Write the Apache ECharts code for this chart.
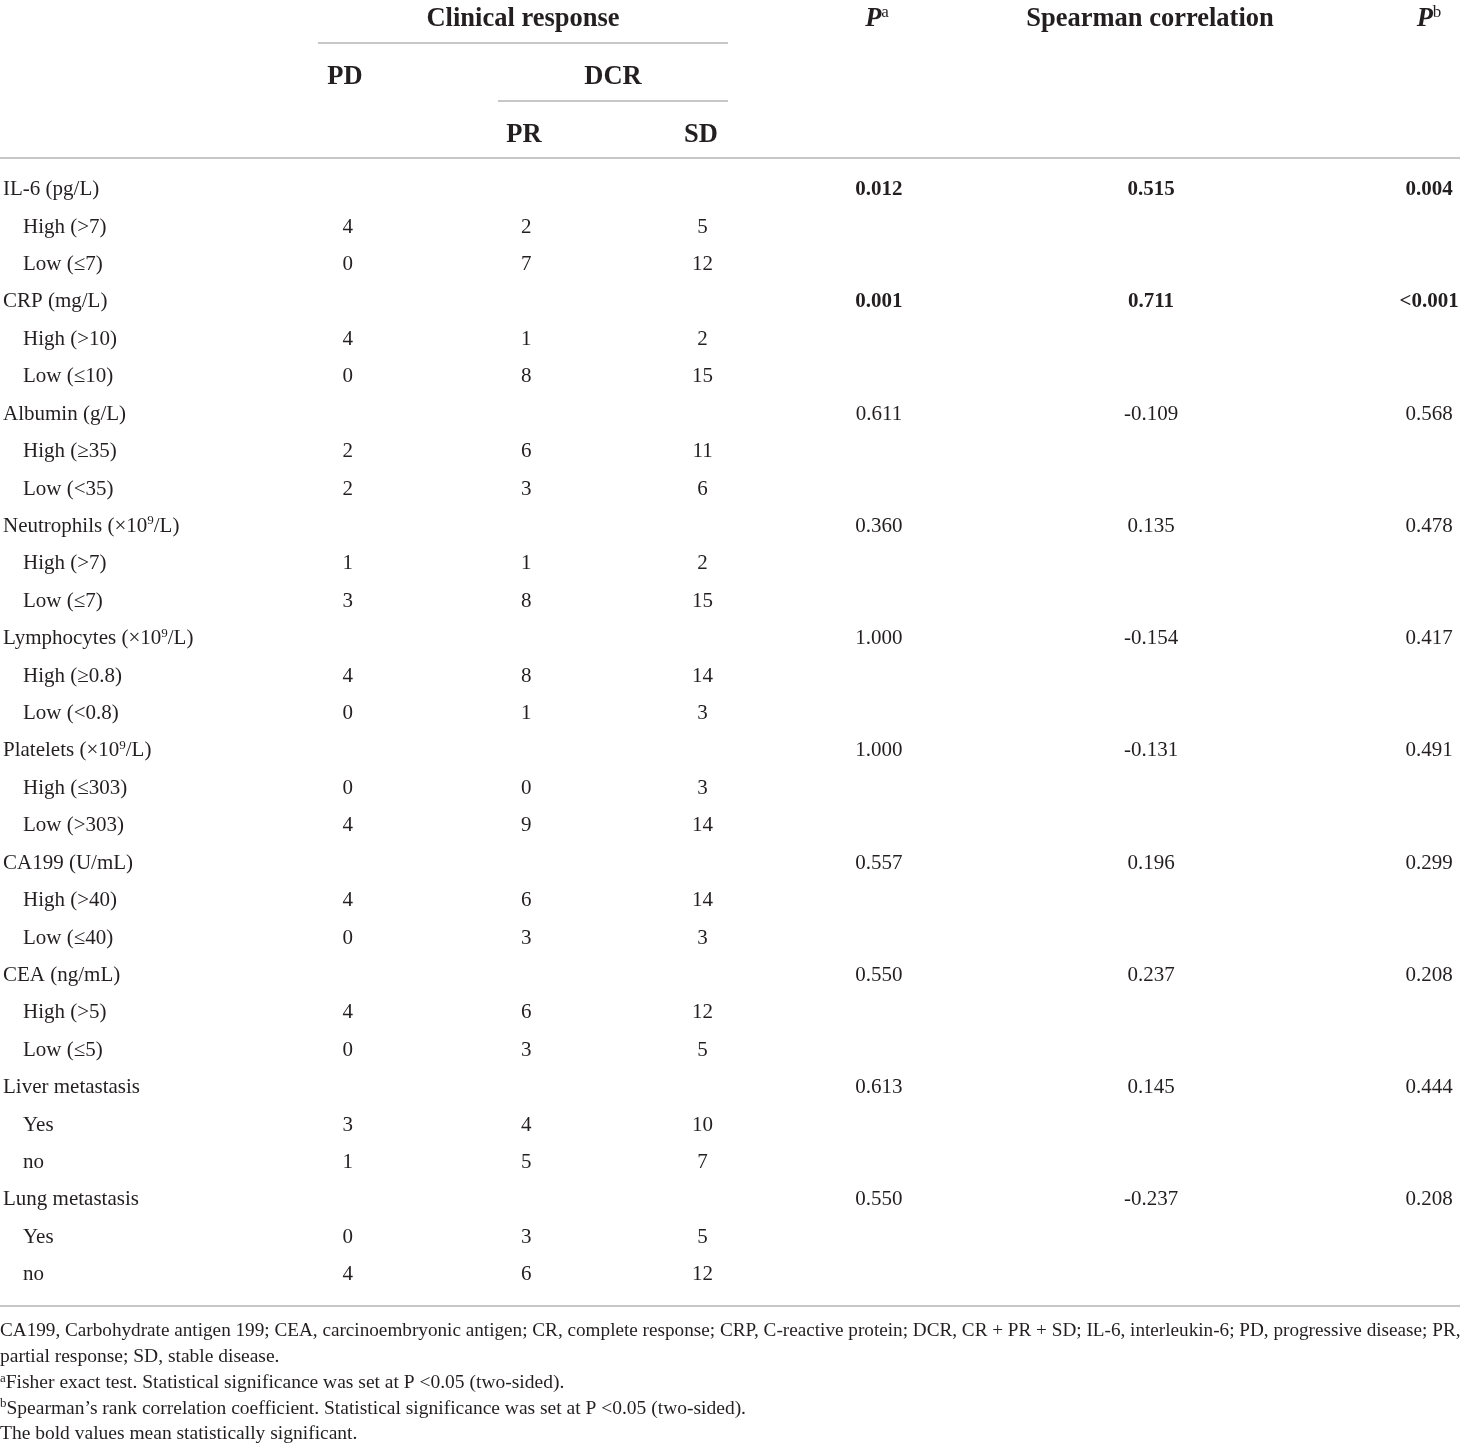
<!DOCTYPE html>
<html>
<head>
<meta charset="utf-8">
<script src="https://cdn.jsdelivr.net/npm/echarts@6/dist/echarts.min.js"></script>
<style>
  html, body { margin: 0; padding: 0; background: #fff; }
  #main { width: 1460px; height: 1444px; }
</style>
</head>
<body>
<div id="main"></div>
<script>
// table data
var groupNames = ['IL-6 (pg/L)', 'CRP (mg/L)', 'Albumin (g/L)', 'Neutrophils (×10^9/L)',
    'Lymphocytes (×10^9/L)', 'Platelets (×10^9/L)', 'CA199 (U/mL)', 'CEA (ng/mL)',
    'Liver metastasis', 'Lung metastasis'];
var levelNames = [
    ['High (>7)', 'Low (≤7)'],
    ['High (>10)', 'Low (≤10)'],
    ['High (≥35)', 'Low (<35)'],
    ['High (>7)', 'Low (≤7)'],
    ['High (≥0.8)', 'Low (<0.8)'],
    ['High (≤303)', 'Low (>303)'],
    ['High (>40)', 'Low (≤40)'],
    ['High (>5)', 'Low (≤5)'],
    ['Yes', 'no'],
    ['Yes', 'no']
];
var pdCounts = [[4, 0], [4, 0], [2, 2], [1, 3], [4, 0], [0, 4], [4, 0], [4, 0], [3, 1], [0, 4]];
var prCounts = [[2, 7], [1, 8], [6, 3], [1, 8], [8, 1], [0, 9], [6, 3], [6, 3], [4, 5], [3, 6]];
var sdCounts = [[5, 12], [2, 15], [11, 6], [2, 15], [14, 3], [3, 14], [14, 3], [12, 5], [10, 7], [5, 12]];
var fisherP = ['0.012', '0.001', '0.611', '0.360', '1.000', '1.000', '0.557', '0.550', '0.613', '0.550'];
var spearmanR = ['0.515', '0.711', '-0.109', '0.135', '-0.154', '-0.131', '0.196', '0.237', '0.145', '-0.237'];
var spearmanP = ['0.004', '<0.001', '0.568', '0.478', '0.417', '0.491', '0.299', '0.208', '0.444', '0.208'];

var footnotes = [
    'CA199, Carbohydrate antigen 199; CEA, carcinoembryonic antigen; CR, complete response; CRP, C-reactive protein; DCR, CR + PR + SD; IL-6, interleukin-6; PD, progressive disease; PR,',
    'partial response; SD, stable disease.',
    '^aFisher exact test. Statistical significance was set at P <0.05 (two-sided).',
    '^bSpearman\u2019s rank correlation coefficient. Statistical significance was set at P <0.05 (two-sided).',
    'The bold values mean statistically significant.'
];

// layout
var FONT = 'Liberation Serif';
var INK = '#231f20';
var RULE = '#b4b4b4';
var BODY = 21;
var colX = { pd: 344, pr: 523, sd: 700, pa: 877, rho: 1150, pb: 1429 };

// flatten groups into table rows
var rows = [];
groupNames.forEach(function (g, gi) {
    rows.push({ label: g, group: gi, sub: false });
    levelNames[gi].forEach(function (lv, li) {
        rows.push({ label: lv, group: gi, sub: true, level: li });
    });
});

function isBold(gi) {
    return parseFloat(fisherP[gi]) < 0.05;
}

// turn "x^9y" into rich text segments
function rich(text, style) {
    var out = '';
    var parts = text.split(/\^(\w)/);
    for (var i = 0; i < parts.length; i++) {
        if (parts[i] === '') continue;
        out += (i % 2 === 1) ? '{sup|' + parts[i] + '}' : '{' + style + '|' + parts[i] + '}';
    }
    return out;
}

function cellSeries(name, x, getter) {
    var data = [];
    rows.forEach(function (r, ri) {
        var v = getter(r);
        if (v === null || v === undefined) return;
        data.push({
            value: [x, ri, String(v)],
            label: { fontWeight: (!r.sub && isBold(r.group)) ? 'bold' : 'normal' }
        });
    });
    return {
        name: name,
        type: 'scatter',
        symbolSize: 0,
        silent: true,
        itemStyle: { opacity: 1 },
        data: data,
        label: {
            show: true,
            position: 'inside',
            fontFamily: FONT,
            fontSize: BODY,
            color: INK,
            opacity: 1,
            formatter: function (p) { return p.value[2]; }
        }
    };
}

var chart = echarts.init(document.getElementById('main'));

var richStyles = {
    g: { fontFamily: FONT, fontSize: BODY, color: INK, lineHeight: 24 },
    s: { fontFamily: FONT, fontSize: BODY, color: INK, lineHeight: 24, padding: [0, 0, 0, 20] },
    sup: { fontFamily: FONT, fontSize: 13, color: INK, lineHeight: 13, verticalAlign: 'top' }
};

var headStyle = { fontFamily: FONT, fontSize: 26.5, fontWeight: 'bold', fill: INK };

function headText(text, x, y) {
    return { type: 'text', x: x, y: y, style: Object.assign({ text: text, align: 'center', verticalAlign: 'middle' }, headStyle) };
}

function pHead(letter, x) {
    return {
        type: 'text', x: x, y: 19,
        style: {
            text: '{p|P}{sup|' + letter + '}',
            align: 'center', verticalAlign: 'middle',
            rich: {
                p: { fontFamily: FONT, fontSize: 26.5, fontWeight: 'bold', fontStyle: 'italic', fill: INK, lineHeight: 30 },
                sup: { fontFamily: FONT, fontSize: 17, fill: INK, lineHeight: 16, verticalAlign: 'top' }
            }
        }
    };
}

function rule(x1, x2, y) {
    return { type: 'line', shape: { x1: x1, y1: y, x2: x2, y2: y }, style: { stroke: RULE, lineWidth: 1.5 } };
}

var graphics = [
    headText('Clinical response', 523, 19),
    headText('PD', 345, 77),
    headText('DCR', 613, 77),
    headText('PR', 524, 135),
    headText('SD', 701, 135),
    pHead('a', 877),
    headText('Spearman correlation', 1150, 19),
    pHead('b', 1429),
    rule(318, 728, 43),
    rule(498, 728, 101),
    rule(0, 1460, 158),
    rule(0, 1460, 1306)
];

footnotes.forEach(function (t, i) {
    var fs = i === 0 ? 19.2 : 19.5;
    graphics.push({
        type: 'text', x: 0, y: 1331 + i * 25.8,
        style: {
            text: rich(t, 'f'),
            align: 'left', verticalAlign: 'middle',
            rich: {
                f: { fontFamily: FONT, fontSize: fs, fill: INK, lineHeight: 22 },
                sup: { fontFamily: FONT, fontSize: 13, fill: INK, lineHeight: 12, verticalAlign: 'top' }
            }
        }
    });
});

var option = {
    backgroundColor: '#fff',
    animation: false,
    grid: { left: -2, right: 0, top: 171, height: 1122.5 },
    xAxis: {
        type: 'value', min: -2, max: 1460,
        show: false
    },
    yAxis: {
        type: 'category',
        inverse: true,
        data: rows.map(function (r, i) { return 'row' + i; }),
        axisLine: { show: false },
        axisTick: { show: false },
        splitLine: { show: false },
        axisLabel: {
            inside: true,
            interval: 0,
            margin: 0,
            formatter: function (v, i) {
                var r = rows[i];
                return rich(r.label, r.sub ? 's' : 'g');
            },
            rich: richStyles
        }
    },
    series: [
        cellSeries('PD', colX.pd, function (r) { return r.sub ? pdCounts[r.group][r.level] : null; }),
        cellSeries('PR', colX.pr, function (r) { return r.sub ? prCounts[r.group][r.level] : null; }),
        cellSeries('SD', colX.sd, function (r) { return r.sub ? sdCounts[r.group][r.level] : null; }),
        cellSeries('Pa', colX.pa, function (r) { return r.sub ? null : fisherP[r.group]; }),
        cellSeries('Spearman', colX.rho, function (r) { return r.sub ? null : spearmanR[r.group]; }),
        cellSeries('Pb', colX.pb, function (r) { return r.sub ? null : spearmanP[r.group]; })
    ],
    graphic: graphics
};

chart.setOption(option);
</script>
</body>
</html>
